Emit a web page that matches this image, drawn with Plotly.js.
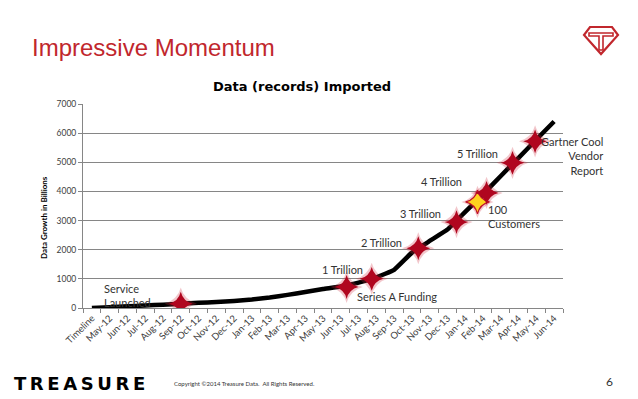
<!DOCTYPE html>
<html>
<head>
<meta charset="utf-8">
<script src="https://cdn.plot.ly/plotly-3.0.1.min.js"></script>
<style>html,body{margin:0;padding:0;background:#fff;}#chart{width:638px;height:399px;}</style>
</head>
<body>
<div id="chart"></div>
<script>
// ---- data ----
const categories = ['Timeline','May-12','Jun-12','Jul-12','Aug-12','Sep-12','Oct-12','Nov-12','Dec-12',
  'Jan-13','Feb-13','Mar-13','Apr-13','May-13','Jun-13','Jul-13','Aug-13','Sep-13','Oct-13','Nov-13','Dec-13',
  'Jan-14','Feb-14','Mar-14','Apr-14','May-14','Jun-14'];
const importedBillions = [0, 30, 60, 85, 115, 150, 180, 205, 240,
  290, 360, 450, 550, 650, 740, 870, 1050, 1310, 1900, 2300, 2690,
  3300, 3900, 4530, 5150, 5780, 6400];
const eventLabels = ['Service<br>Launched','Series A Funding','1 Trillion','2 Trillion','3 Trillion',
  '100<br>Customers','4 Trillion','5 Trillion','Gartner Cool<br>Vendor<br>Report'];
const eventPositions = [5, 14.33, 15.74, 18.36, 20.51, 21.69, 22.2, 23.66, 24.93];
const eventValues = [150, 720, 1000, 2050, 2950, 3640, 3950, 4980, 5720];
const yTicks = [0, 1000, 2000, 3000, 4000, 5000, 6000, 7000];

// ---- layout helpers ----
const W = 638, H = 399, L = 83, T = 104, PW = 480, PH = 204;
const px = x => (x - L) / PW;
const py = y => (T + PH - y) / PH;
const font = 'Lato, "Open Sans", sans-serif';
const red = '#c1272d';

const idx = categories.map((_, i) => i);
const bounds = categories.map((_, i) => i - 0.5).concat([categories.length - 0.5]);

const lineTrace = {
  x: idx, y: importedBillions, type: 'scatter', mode: 'lines',
  line: {color: '#000', width: 4.5, shape: 'spline', smoothing: 0.3},
  hoverinfo: 'skip'
};
const glowTrace = {
  x: eventPositions, y: eventValues, type: 'scatter', mode: 'markers',
  marker: {symbol: 'star-diamond', size: 23, color: 'rgba(210,50,70,0.28)', line: {width: 0}},
  hoverinfo: 'skip'
};
const starTrace = {
  x: eventPositions, y: eventValues, type: 'scatter', mode: 'markers',
  marker: {
    symbol: 'star-diamond', size: 17,
    color: eventLabels.map(l => l.startsWith('100') ? '#ffd21f' : '#b0061f'),
    line: {width: eventLabels.map(l => l.startsWith('100') ? 1.2 : 0), color: '#c0102a'}
  },
  hoverinfo: 'skip'
};

// label offsets (pixels) relative to each star
const offsets = [
  {xa: 'left', dx: -79, dy: 8, align: 'left'},
  {xa: 'left', dx: 8, dy: -9, align: 'left'},
  {xa: 'center', dx: -29, dy: 9, align: 'center'},
  {xa: 'center', dx: -37, dy: 6, align: 'center'},
  {xa: 'center', dx: -36, dy: 9, align: 'center'},
  {xa: 'left', dx: 9, dy: -15, align: 'left'},
  {xa: 'center', dx: -45, dy: 11, align: 'center'},
  {xa: 'center', dx: -35, dy: 9, align: 'center'},
  {xa: 'right', dx: 70, dy: -15, align: 'right'}
];

const annotations = eventLabels.map((t, i) => ({
  x: eventPositions[i], y: eventValues[i], xref: 'x', yref: 'y', text: t,
  showarrow: false, xanchor: offsets[i].xa, yanchor: 'middle', align: offsets[i].align,
  xshift: offsets[i].dx, yshift: offsets[i].dy,
  font: {family: font, size: 11, color: '#333'}
}));

annotations.push(
  {xref: 'paper', yref: 'paper', x: px(30), y: py(47), xanchor: 'left', yanchor: 'middle', showarrow: false,
   text: 'Impressive Momentum', font: {family: '"Liberation Sans", Arial, sans-serif', size: 24, color: red}},
  {xref: 'paper', yref: 'paper', x: px(302), y: py(86), xanchor: 'center', yanchor: 'middle', showarrow: false,
   text: '<b>Data (records) Imported</b>', font: {family: '"DejaVu Sans", sans-serif', size: 13, color: '#000'}},
  {xref: 'paper', yref: 'paper', x: px(44), y: py(218), xanchor: 'center', yanchor: 'middle', showarrow: false, textangle: -90,
   text: '<b>Data Growth in Billions</b>', font: {family: font, size: 8, color: '#000'}},
  {xref: 'paper', yref: 'paper', x: px(12), y: py(383), xanchor: 'left', yanchor: 'middle', showarrow: false,
   text: '<b>T\u2009R\u2009E\u2009A\u2009S\u2009U\u2009R\u2009E</b>', font: {family: '"DejaVu Sans", sans-serif', size: 18, color: '#000'}},
  {xref: 'paper', yref: 'paper', x: px(172), y: py(383), xanchor: 'left', yanchor: 'middle', showarrow: false,
   text: 'Copyright ©2014 Treasure Data.  All Rights Reserved.', font: {family: font, size: 6, color: '#333'}},
  {xref: 'paper', yref: 'paper', x: px(609), y: py(381), xanchor: 'center', yanchor: 'middle', showarrow: false,
   text: '6', font: {family: font, size: 12, color: '#333'}}
);

// logo (gem with T)
function path(pts) { return 'M' + pts.map(p => px(p[0]) + ',' + py(p[1])).join(' L') + ' Z'; }
const shapes = [
  {type: 'path', xref: 'paper', yref: 'paper', path: path([[590,27],[612,27],[618,35],[601,54],[584,35]]),
   line: {color: red, width: 2.2}},
  {type: 'path', xref: 'paper', yref: 'paper', path: path([[589,33],[613,33],[613,36],[603,36],[603,50],[599,50],[599,36],[589,36]]),
   line: {color: red, width: 1.6}}
];

const layout = {
  width: W, height: H, margin: {l: L, r: W - L - PW, t: T, b: H - T - PH},
  paper_bgcolor: '#fff', plot_bgcolor: '#fff', showlegend: false,
  xaxis: {
    range: [-0.5, categories.length - 0.5], tickmode: 'array', tickvals: idx, ticktext: categories,
    tickangle: -45, ticks: '', showgrid: false, zeroline: false,
    showline: true, linecolor: '#868686', linewidth: 1,
    tickfont: {family: font, size: 9.5, color: '#404040'},
    minor: {tickmode: 'array', tickvals: bounds, ticks: 'outside', ticklen: 4, tickcolor: '#868686', showgrid: false}
  },
  yaxis: {
    range: [0, 7000], tickmode: 'array', tickvals: yTicks, ticktext: yTicks.map(String),
    ticks: 'outside', ticklen: 4, tickcolor: '#868686',
    showgrid: true, gridcolor: '#868686', gridwidth: 1, zeroline: false,
    showline: true, linecolor: '#868686', linewidth: 1,
    tickfont: {family: font, size: 8.5, color: '#404040'}
  },
  annotations: annotations,
  shapes: shapes
};

Plotly.newPlot('chart', [lineTrace, glowTrace, starTrace], layout, {staticPlot: true, displayModeBar: false});
</script>
</body>
</html>
